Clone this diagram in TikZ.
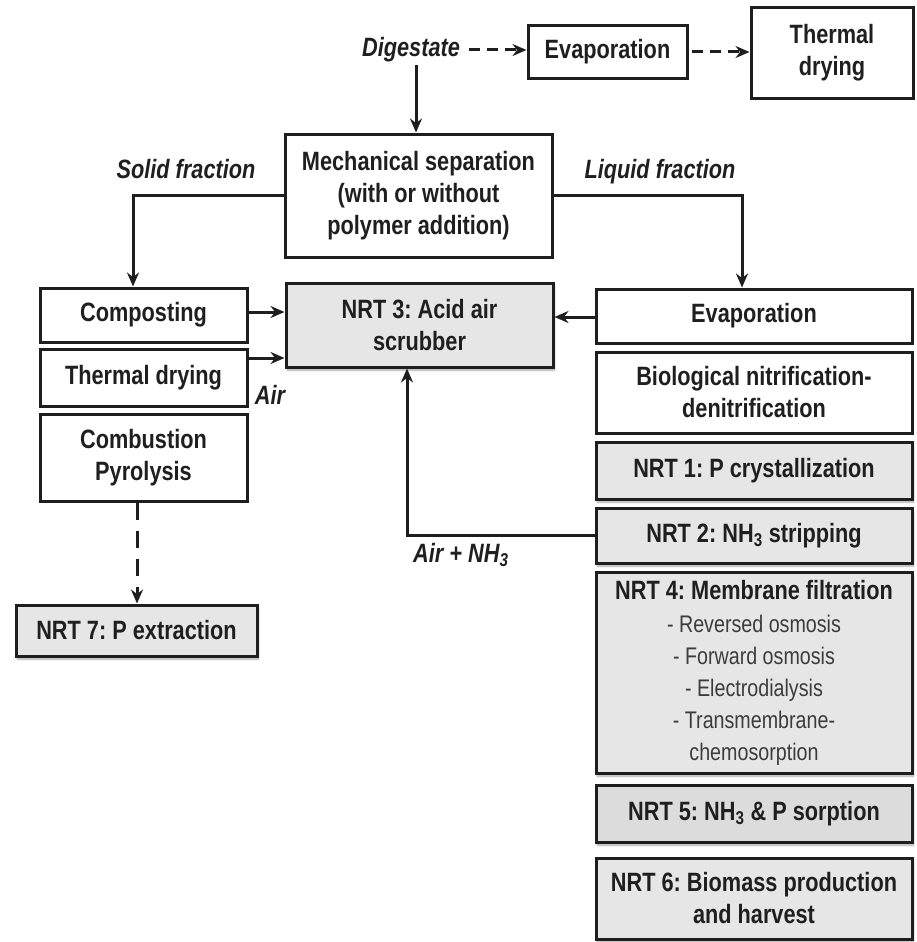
\documentclass[tikz,border=0pt]{standalone}
\usepackage{fontspec}
\setmainfont{Liberation Sans}[FakeStretch=0.82]
\frenchspacing
\usetikzlibrary{arrows.meta,shadows.blur}
\definecolor{ln}{HTML}{1E1E1E}
\definecolor{gfill}{HTML}{E6E6E6}
\definecolor{gfillb}{HTML}{DCDCDC}
\definecolor{subtxt}{HTML}{3C3C3C}
\begin{document}
\frenchspacing
\begin{tikzpicture}[x=1pt,y=-1pt,
  box/.style={draw=ln, line width=3pt, fill=white, align=center, inner sep=0pt,
    font=\bfseries\fontsize{26.5}{32}\selectfont, text=black!88},
  gbox/.style={box, fill=gfill, blur shadow={shadow xshift=1.5pt, shadow yshift=-3pt, shadow blur steps=6, shadow opacity=35}},
  lab/.style={font=\bfseries\itshape\fontsize{26.5}{30}\selectfont, inner sep=0pt, text=black!88},
  conn/.style={draw=ln, line width=3pt},
  arr/.style={conn, -{Stealth[length=14pt,width=12pt]}},
  dsh/.style={arr, dash pattern=on 11pt off 7pt},
  dshv/.style={arr, dash pattern=on 17pt off 11pt},
]
\useasboundingbox (0,0) rectangle (917,942);

% top row
\node[lab] (dig) at (411,50) {Digestate};
\node[box, minimum width=159pt, minimum height=52pt] (evap1) at (607.5,52) {Evaporation};
\node[box, minimum width=162pt, minimum height=90pt] (therm1) at (832,53) {Thermal\\drying};

% mechanical separation
\node[box, minimum width=267pt, minimum height=123pt] (mech) at (418.5,195.5)
  {Mechanical separation\\(with or without\\polymer addition)};

% left column
\node[box, minimum width=207pt, minimum height=54pt] (comp) at (143.5,315) {Composting};
\node[box, minimum width=207pt, minimum height=57pt] (therm2) at (143.5,377.5) {Thermal drying};
\node[box, minimum width=207pt, minimum height=87pt] (comb) at (143.5,457.5) {Combustion\\Pyrolysis};
\node[gbox, minimum width=241pt, minimum height=51pt] (nrt7) at (136.5,630.5) {NRT 7: P extraction};

% centre
\node[gbox, minimum width=267pt, minimum height=84pt] (nrt3) at (419.5,325) {NRT 3: Acid air\\scrubber};

% right column
\node[box, minimum width=316pt, minimum height=54pt] (evap2) at (754,316) {Evaporation};
\node[box, minimum width=316pt, minimum height=81pt] (bio) at (754,392.5) {Biological nitrification-\\denitrification};
\node[gbox, minimum width=316pt, minimum height=57pt] (nrt1) at (754,470.5) {NRT 1: P crystallization};
\node[gbox, minimum width=316pt, minimum height=55pt] (nrt2) at (754,535.5) {NRT 2: NH\textsubscript{3} stripping};
\node[gbox, minimum width=316pt, minimum height=201pt] (nrt4) at (754,672.5)
  {NRT 4: Membrane filtration\\[1pt]
   {\mdseries\color{subtxt}\fontsize{24}{29}\selectfont - Reversed osmosis}\\
   {\mdseries\color{subtxt}\fontsize{24}{29}\selectfont - Forward osmosis}\\
   {\mdseries\color{subtxt}\fontsize{24}{29}\selectfont - Electrodialysis}\\
   {\mdseries\color{subtxt}\fontsize{24}{29}\selectfont - Transmembrane-}\\
   {\mdseries\color{subtxt}\fontsize{24}{29}\selectfont chemosorption}};
\node[gbox, fill=gfillb, minimum width=316pt, minimum height=57pt] (nrt5) at (754,813.5) {NRT 5: NH\textsubscript{3} \& P sorption};
\node[gbox, minimum width=316pt, minimum height=81pt] (nrt6) at (754,898.5) {NRT 6: Biomass production\\and harvest};

% labels
\node[lab] (solid) at (186,169) {Solid fraction};
\node[lab] (liquid) at (660,172) {Liquid fraction};
\node[lab] (air) at (270,395) {Air};
\node[lab, anchor=west] (airnh) at (413,555) {Air + NH\textsubscript{3}};

% connectors
\draw[dsh] ([xshift=9pt]dig.east) -- (dig.east -| evap1.west);
\draw[dsh] ([xshift=3pt]evap1.east) -- (evap1.east -| therm1.west);
\draw[arr] ([xshift=5pt,yshift=-2pt]dig.south) -- ([xshift=5pt]dig.south |- mech.north);
\draw[arr] (mech.west) -| ([xshift=-10.5pt]comp.north);
\draw[arr] (mech.east) -| ([xshift=-12pt]evap2.north);
\draw[arr] ([yshift=3pt]comp.east) -- ([yshift=3pt]comp.east -| nrt3.west);
\draw[arr] ([yshift=19.5pt]therm2.east) -- ([yshift=19.5pt]therm2.east -| nrt3.west);
\draw[arr] ([yshift=-1pt]evap2.west) -- ([yshift=-1pt]evap2.west -| nrt3.east);
\draw[arr] (nrt2.west) -| ([xshift=-12.5pt]nrt3.south);
\draw[dshv] ([xshift=-6.5pt]comb.south) -- ([xshift=-6.5pt]comb.south |- nrt7.north);
\end{tikzpicture}
\end{document}
